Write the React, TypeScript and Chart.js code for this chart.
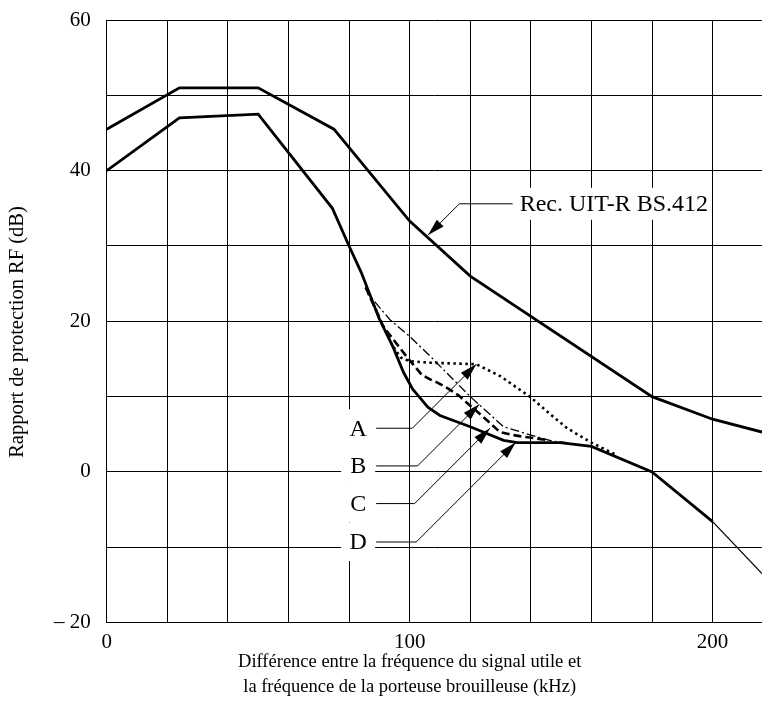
import React, { useEffect, useRef } from 'react';
import { Chart, registerables } from 'chart.js';

Chart.register(...registerables);

// ---- data (kHz, dB) ----
const upperX = [0, 24, 50, 75, 100, 120, 180, 200, 216.3];
const upperY = [45.5, 51, 51, 45.5, 33.3, 26, 10, 7, 5.3];

const curveDX = [0, 24, 50, 74.5, 80, 84, 90, 94.5, 98, 101, 103.5, 106, 110, 120, 131, 135.5, 149.6, 160, 180, 200, 216.3];
const curveDY = [40, 47, 47.5, 35, 30, 26.5, 20.3, 16.6, 13.2, 11, 9.8, 8.6, 7.5, 6, 4.2, 3.9, 3.9, 3.4, 0, -6.6, -13.5];

const curveAX = [85.5, 90, 94, 97, 100, 107, 122, 130, 140, 146, 152, 160, 168];
const curveAY = [24.5, 20.5, 17, 15.2, 14.7, 14.5, 14.3, 12.7, 9.9, 7.8, 5.8, 3.9, 2.3];

const curveBX = [85.5, 87, 93.5, 100, 106.7, 120, 131, 140, 147, 152];
const curveBY = [24.5, 23.3, 20.2, 18, 15.4, 10, 6, 4.9, 4.1, 3.9];

const curveCX = [85.5, 91.3, 99, 104, 106.7, 109, 113, 116, 124.3, 129.8, 134, 139, 146];
const curveCY = [24.5, 19.3, 15.3, 12.9, 12.3, 11.9, 11, 10.2, 7.3, 5.3, 4.9, 4.6, 4.2];

const xTickValues = [0, 20, 40, 60, 80, 100, 120, 140, 160, 180, 200];
const xLabelledTicks = [0, 100, 200];
const yLabelledTicks = [60, 40, 20, 0, -20];

// annotations (data units)
const curveLetters = ['A', 'B', 'C', 'D'];
const letterX = 83;
const letterY = [5.8, 0.8, -4.2, -9.3];
const letterTipX = [122, 123, 126.5, 135];
const letterTipY = [14.3, 9, 5.8, 3.9];

const recText = 'Rec. UIT-R BS.412';
const recTextX = 136.3;
const recTextY = 35.6;
const recTipX = 106.1;
const recTipY = 31.45;

const xTitleLines = [
  'Différence entre la fréquence du signal utile et',
  'la fréquence de la porteuse brouilleuse (kHz)',
];
const yTitle = 'Rapport de protection RF (dB)';

const FONT = '"Liberation Serif", "Times New Roman", serif';

const toPts = (xs: number[], ys: number[]) => xs.map((x, i) => ({ x, y: ys[i] }));

function arrowHead(ctx: CanvasRenderingContext2D, fx: number, fy: number, tx: number, ty: number) {
  const ang = Math.atan2(ty - fy, tx - fx);
  const len = 17;
  const hw = 4.8;
  const bx = tx - len * Math.cos(ang);
  const by = ty - len * Math.sin(ang);
  ctx.beginPath();
  ctx.moveTo(tx, ty);
  ctx.lineTo(bx + hw * Math.sin(ang), by - hw * Math.cos(ang));
  ctx.lineTo(bx - hw * Math.sin(ang), by + hw * Math.cos(ang));
  ctx.closePath();
  ctx.fill();
}

const annotationPlugin = {
  id: 'annots',
  afterDatasetsDraw(chart: any) {
    const ctx: CanvasRenderingContext2D = chart.ctx;
    const xs = chart.scales.x;
    const ys = chart.scales.y;
    ctx.save();
    ctx.fillStyle = '#000';
    ctx.strokeStyle = '#000';
    ctx.lineWidth = 1;

    // letter labels
    ctx.font = `24px ${FONT}`;
    curveLetters.forEach((L, i) => {
      const cx = xs.getPixelForValue(letterX);
      const cy = ys.getPixelForValue(letterY[i]);
      ctx.fillStyle = '#fff';
      ctx.fillRect(cx - 17, cy - 19, 34, 38);
      ctx.fillStyle = '#000';
      ctx.textAlign = 'center';
      ctx.textBaseline = 'middle';
      ctx.fillText(L, cx, cy + 1);
      const tx = xs.getPixelForValue(letterTipX[i]);
      const ty = ys.getPixelForValue(letterTipY[i]);
      const bend = tx - (cy - ty);
      ctx.beginPath();
      ctx.moveTo(cx + 18, cy);
      ctx.lineTo(bend, cy);
      ctx.lineTo(tx, ty);
      ctx.stroke();
      arrowHead(ctx, bend, cy, tx, ty);
    });

    // Rec label
    ctx.font = `24px ${FONT}`;
    const rx = xs.getPixelForValue(recTextX);
    const ry = ys.getPixelForValue(recTextY);
    const w = ctx.measureText(recText).width;
    ctx.fillStyle = '#fff';
    ctx.fillRect(rx - 3, ry - 16, w + 5, 32);
    ctx.fillStyle = '#000';
    ctx.textAlign = 'left';
    ctx.textBaseline = 'middle';
    ctx.fillText(recText, rx, ry + 1);
    const tx = xs.getPixelForValue(recTipX);
    const ty = ys.getPixelForValue(recTipY);
    const bend = tx + (ty - ry);
    ctx.beginPath();
    ctx.moveTo(rx - 7, ry);
    ctx.lineTo(bend, ry);
    ctx.lineTo(tx, ty);
    ctx.stroke();
    arrowHead(ctx, bend, ry, tx, ty);

    // axis titles
    ctx.font = `18.5px ${FONT}`;
    ctx.textAlign = 'center';
    ctx.textBaseline = 'middle';
    const xc = xs.getPixelForValue(100);
    ctx.fillText(xTitleLines[0], xc, 662);
    ctx.fillText(xTitleLines[1], xc, 687);
    ctx.font = `20.5px ${FONT}`;
    ctx.translate(18, 332);
    ctx.rotate(-Math.PI / 2);
    ctx.fillText(yTitle, 0, 0);
    ctx.restore();
  },
};

export default function App() {
  const ref = useRef<HTMLCanvasElement>(null);
  useEffect(() => {
    const canvas = ref.current!;
    Chart.defaults.font.family = FONT;
    const chart = new Chart(canvas, {
      type: 'line',
      data: {
        datasets: [
          {
            data: toPts(curveAX, curveAY),
            borderColor: '#000',
            borderWidth: 2.6,
            borderDash: [2.5, 3.5],
            borderCapStyle: 'butt',
            pointRadius: 0,
            tension: 0,
            fill: false,
          },
          {
            data: toPts(curveBX, curveBY),
            borderColor: '#000',
            borderWidth: 1.3,
            borderDash: [9, 3, 2, 3],
            pointRadius: 0,
            tension: 0,
            fill: false,
          },
          {
            data: toPts(curveCX, curveCY),
            borderColor: '#000',
            borderWidth: 2.6,
            borderDash: [8, 4],
            pointRadius: 0,
            tension: 0,
            fill: false,
          },
          {
            data: toPts(curveDX, curveDY),
            borderColor: '#000',
            borderWidth: 2.8,
            pointRadius: 0,
            tension: 0,
            fill: false,
            segment: {
              borderWidth: (c: any) => (c.p0.parsed.x >= 199.9 ? 1.3 : 2.8),
            },
          },
          {
            data: toPts(upperX, upperY),
            borderColor: '#000',
            borderWidth: 2.8,
            pointRadius: 0,
            tension: 0,
            fill: false,
          },
        ],
      },
      options: {
        responsive: false,
        devicePixelRatio: 1,
        animation: false,
        parsing: false as any,
        layout: { padding: { top: 20, left: 0, right: 0, bottom: 0 } },
        plugins: { legend: { display: false }, tooltip: { enabled: false }, title: { display: false } },
        scales: {
          x: {
            type: 'linear',
            min: 0,
            max: 216.3,
            afterBuildTicks: (s: any) => {
              s.ticks = xTickValues.map((v) => ({ value: v }));
            },
            afterFit: (s: any) => {
              s.height = 104.4;
              s.paddingLeft = 0;
              s.paddingRight = 0;
            },
            grid: { color: '#000', lineWidth: 1, drawTicks: false },
            border: { display: true, color: '#000', width: 1 },
            ticks: {
              autoSkip: false,
              maxRotation: 0,
              padding: 7,
              color: '#000',
              font: { family: FONT, size: 21 },
              callback: (v: any) => (xLabelledTicks.includes(Number(v)) ? String(v) : ''),
            },
          },
          y: {
            type: 'linear',
            min: -20,
            max: 60,
            afterFit: (s: any) => {
              s.width = 106.7;
              s.paddingTop = 0;
              s.paddingBottom = 0;
            },
            grid: { color: '#000', lineWidth: 1, drawTicks: false },
            border: { display: true, color: '#000', width: 1 },
            ticks: {
              stepSize: 10,
              autoSkip: false,
              padding: 16,
              color: '#000',
              font: { family: FONT, size: 21 },
              callback: (v: any) => {
                const n = Number(v);
                if (!yLabelledTicks.includes(n)) return '';
                return n < 0 ? '\u2013 ' + Math.abs(n) : String(n);
              },
            },
          },
        },
      },
      plugins: [annotationPlugin],
    } as any);
    return () => chart.destroy();
  }, []);
  return (
    <div style={{ position: 'absolute', left: 0, top: 0, width: 762, height: 727, background: '#fff' }}>
      <canvas ref={ref} width={762} height={727} style={{ display: 'block', width: 762, height: 727 }} />
    </div>
  );
}
